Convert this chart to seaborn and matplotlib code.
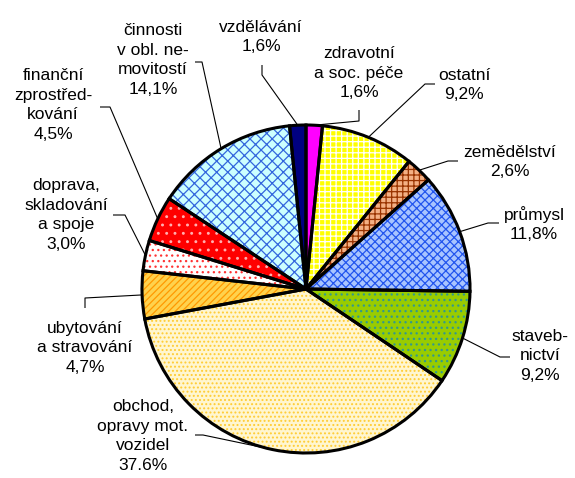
import numpy as np
import matplotlib
matplotlib.use("Agg")
import matplotlib.pyplot as plt
import seaborn as sns

# podíly odvětví (%), po směru hodinových ručiček od 12 hodin
sectors = ["zdravotní\na soc. péče", "ostatní", "zemědělství", "průmysl",
           "staveb-\nnictví", "obchod,\nopravy mot.\nvozidel", "ubytování\na stravování",
           "doprava,\nskladování\na spoje", "finanční\nzprostřed-\nkování",
           "činnosti\nv obl. ne-\nmovitostí", "vzdělávání"]
shares = [1.6, 9.2, 2.6, 11.8, 9.2, 37.6, 4.7, 3.0, 4.5, 14.1, 1.6]
share_labels = ["1,6%", "9,2%", "2,6%", "11,8%", "9,2%", "37.6%", "4,7%",
                "3,0%", "4,5%", "14,1%", "1,6%"]

face_colors = ["#FF00FF", "#FFFF00", "#F4B084", "#A8C4FF", "#99CC00", "#FFF6D0",
               "#FFD24D", "#FFFFFF", "#FF0000", "#CCFFFF", "#000080"]
hatch_colors = ["#FF00FF", "#FFFFFF", "#993300", "#2255EE", "#33998C", "#FFCC33",
                "#FF9900", "#FF3333", "#FFB0B0", "#3366DD", "#000080"]
hatches = [None, "+++", "+++", "xxxx", "...", "....", "/////", "...", "..", "xxx", None]

# rozložení popisků v pixelech: střed textu, koleno a konec vodicí čáry
W, H = 575, 478
label_xy = [(359, 73), (464, 85), (510, 162), (534, 224), (540, 356), (143, 436),
            (85, 348), (66, 215), (53, 105), (153, 60), (261, 37)]
elbows = [(359, 121), (425, 84), (448, 161), (488, 223), (500, 357), (203, 435),
          (85, 298), (125, 215), (110, 107), (202, 62), (262, 75)]
anchors = [(359, 110), (435, 84), (458, 161), (499, 223), (510, 357), (195, 435),
           (85, 308), (113, 215), (100, 107), (195, 62), (262, 65)]

sns.set_style("white")
plt.rcParams["font.family"] = ["Liberation Sans", "DejaVu Sans"]
plt.rcParams["hatch.linewidth"] = 0.9

fig = plt.figure(figsize=(W / 100, H / 100), dpi=100)
ax = fig.add_axes([0, 0, 1, 1])
ax.set_xlim(0, W)
ax.set_ylim(0, H)
ax.set_aspect("equal")
ax.axis("off")

center = (306, H - 289)
radius = 164

wedges, _ = ax.pie(shares, colors=face_colors, startangle=90, counterclock=False,
                   center=center, radius=radius, frame=True,
                   wedgeprops=dict(linewidth=0))
for w, hc, h in zip(wedges, hatch_colors, hatches):
    if h:
        w.set_hatch(h)
        w.set_edgecolor(hc)
        w.set_linewidth(0)

# obrysy výsečí
ax.pie(shares, startangle=90, counterclock=False, center=center, radius=radius,
       frame=True, wedgeprops=dict(fill=False, edgecolor="black", linewidth=2.2))
ax.set_xlim(0, W)
ax.set_ylim(0, H)
ax.axis("off")

for w, name, lab, (tx, ty), (ex, ey), (axx, ayy) in zip(
        wedges, sectors, share_labels, label_xy, elbows, anchors):
    mid = np.deg2rad((w.theta1 + w.theta2) / 2)
    px = center[0] + radius * np.cos(mid)
    py = center[1] + radius * np.sin(mid)
    ax.plot([px, ex, axx], [py, H - ey, H - ayy], color="black", lw=0.8,
            solid_capstyle="butt")
    ax.text(tx, H - ty, name + "\n" + lab, ha="center", va="center",
            fontsize=12.5, linespacing=1.4, color="black")

fig.savefig("out.png", dpi=100)
